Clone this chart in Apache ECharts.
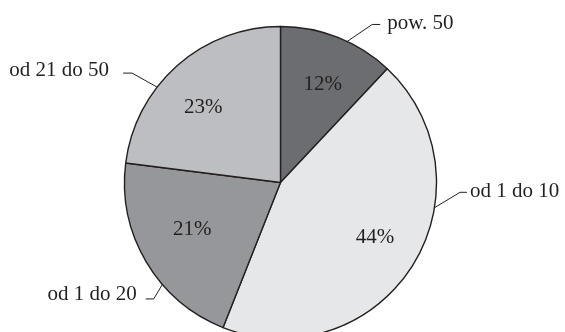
<!DOCTYPE html>
<html>
<head>
<meta charset="utf-8">
<script src="https://cdn.jsdelivr.net/npm/echarts@6/dist/echarts.min.js"></script>
<style>
  html, body { margin: 0; padding: 0; background: #ffffff; }
  #chart { width: 565px; height: 332px; }
</style>
</head>
<body>
<div id="chart"></div>
<script>
// ---- data ----
const categories = ['pow. 50', 'od 1 do 10', 'od 1 do 20', 'od 21 do 50'];
const shares = [12, 44, 21, 23];
const sliceColors = ['#6c6d71', '#e6e7e9', '#96979a', '#bdbec1'];

// ---- layout (styles/positions kept out of data) ----
const CX = 280.5, CY = 182.5, R = 156;
const FONT = '"Liberation Serif", "DejaVu Serif", serif';
const INK = '#231f20';
// leader line shape per outer label: anchor angle on rim (deg clockwise from top),
// elbow offset, horizontal tail length, gap to text, text vertical shift
const guides = [
  { angle: 25.3,  d: [25, -17],     len: 8, gap: 7,  dy: -1 },
  { angle: 99.3,  d: [25.6, -15.4], len: 7, gap: 3,  dy: -1 },
  { angle: 229.2, d: [-8.7, 14.5],  len: 8, gap: 9,  dy: -4 },
  { angle: 307.7, d: [-25, -14],    len: 9, gap: 14, dy: -3 }
];
// inner percentage label placement: polar (deg clockwise from top, radius px)
const innerPos = [
  { angle: 23.3,  r: 107 },
  { angle: 120,   r: 109 },
  { angle: 241.8, r: 100 },
  { angle: 314.3, r: 108 }
];

const chart = echarts.init(document.getElementById('chart'), null, { renderer: 'canvas' });

function polar(angleDeg, r) {
  const a = angleDeg * Math.PI / 180;
  return [CX + r * Math.sin(a), CY - r * Math.cos(a)];
}

chart.setOption({
  animation: false,
  backgroundColor: '#ffffff',
  series: [
    {
      type: 'pie',
      center: [CX, CY],
      radius: R,
      startAngle: 90,
      clockwise: true,
      avoidLabelOverlap: false,
      silent: true,
      itemStyle: { borderColor: INK, borderWidth: 1.4 },
      label: {
        show: true,
        position: 'outside',
        formatter: '{b}',
        color: INK,
        fontFamily: FONT,
        fontSize: 21
      },
      labelLine: {
        show: true,
        smooth: false,
        lineStyle: { color: INK, width: 1 }
      },
      labelLayout: function (params) {
        const g = guides[params.dataIndex];
        const p = polar(g.angle, R);
        const ex = p[0] + g.d[0];
        const ey = p[1] + g.d[1];
        const right = g.d[0] > 0;
        const tx = ex + (right ? g.len : -g.len);
        return {
          x: tx + (right ? g.gap : -g.gap),
          y: ey + g.dy,
          align: right ? 'left' : 'right',
          verticalAlign: 'middle',
          labelLinePoints: [p, [ex, ey], [tx, ey]]
        };
      },
      data: categories.map((name, i) => ({
        name: name,
        value: shares[i],
        itemStyle: { color: sliceColors[i] }
      }))
    },
    {
      type: 'pie',
      center: [CX, CY],
      radius: [0, 212],
      startAngle: 90,
      clockwise: true,
      avoidLabelOverlap: false,
      silent: true,
      z: 5,
      itemStyle: { color: 'rgba(0,0,0,0)', borderWidth: 0 },
      label: {
        show: true,
        position: 'inside',
        formatter: '{c}%',
        color: INK,
        fontFamily: FONT,
        fontSize: 21
      },
      labelLine: { show: false },
      labelLayout: function (params) {
        const q = innerPos[params.dataIndex];
        const p = polar(q.angle, q.r);
        return { x: p[0], y: p[1], align: 'center', verticalAlign: 'middle' };
      },
      data: categories.map((name, i) => ({ name: name, value: shares[i] }))
    }
  ]
});
</script>
</body>
</html>
